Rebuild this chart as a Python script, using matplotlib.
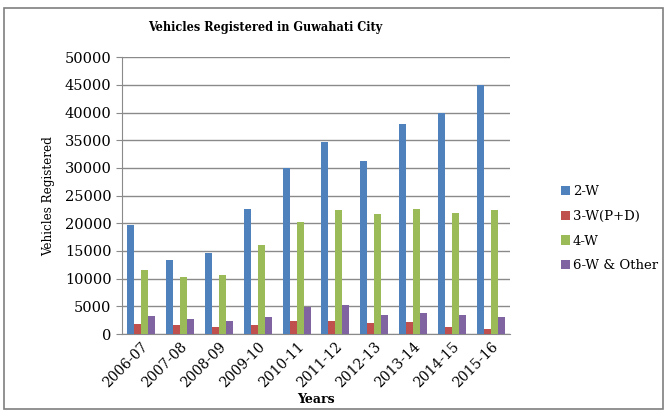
import matplotlib.pyplot as plt
import numpy as np
from matplotlib.patches import Rectangle

years = ["2006-07", "2007-08", "2008-09", "2009-10", "2010-11",
         "2011-12", "2012-13", "2013-14", "2014-15", "2015-16"]
two_w = [19700, 13400, 14600, 22500, 30000, 34600, 31200, 38000, 40000, 45000]
three_w = [1800, 1600, 1200, 1600, 2350, 2350, 1950, 2200, 1200, 950]
four_w = [11500, 10300, 10600, 16000, 20300, 22400, 21700, 22600, 21800, 22400]
six_w = [3300, 2700, 2350, 3000, 4950, 5200, 3450, 3750, 3450, 3000]

series = [("2-W", two_w, "#4F81BD"),
          ("3-W(P+D)", three_w, "#C0504D"),
          ("4-W", four_w, "#9BBB59"),
          ("6-W & Other", six_w, "#8064A2")]

plt.rcParams['font.family'] = ['DejaVu Serif']

fig = plt.figure(figsize=(6.66, 4.17), dpi=100)
ax = fig.add_axes([0.183, 0.199, 0.583, 0.664])

# border round the whole chart
fig.patches.append(Rectangle((0.006, 0.018), 0.99, 0.962, transform=fig.transFigure,
                             fill=False, edgecolor="#7f7f7f", linewidth=1.2))

x = np.arange(len(years))
w = 0.18
for i, (name, vals, col) in enumerate(series):
    ax.bar(x + (i - 1.5) * w, vals, w, color=col, label=name, zorder=3)

ax.set_xlim(-0.5, len(years) - 0.5)
ax.set_ylim(0, 50000)
ax.set_yticks(range(0, 50001, 5000))
ax.yaxis.grid(True, color="#8a8a8a", linewidth=1, zorder=0)
ax.set_xticks(x)
ax.set_xticklabels(years, rotation=45, ha="right", rotation_mode="anchor", fontsize=10)
ax.tick_params(axis="y", labelsize=10.5, length=4, color="#8a8a8a")
ax.tick_params(axis="x", length=0, pad=4)
for s in ["top", "right"]:
    ax.spines[s].set_visible(False)
for s in ["left", "bottom"]:
    ax.spines[s].set_color("#8a8a8a")

fig.text(265 / 666, 1 - 28 / 417, "Vehicles Registered in Guwahati City", fontsize=9,
         fontweight="bold", ha="center", va="center", fontstretch="condensed")
ax.set_xlabel("Years", fontsize=9, fontweight="bold", labelpad=2)
ax.set_ylabel("Vehicles Registered", fontsize=9.5, fontstretch="condensed", labelpad=7)

ax.legend(loc="center left", bbox_to_anchor=(1.1, 0.38), frameon=False, fontsize=9.5,
          handlelength=0.7, handleheight=0.7, handletextpad=0.2, labelspacing=0.88)

plt.savefig("out.png", dpi=100)
